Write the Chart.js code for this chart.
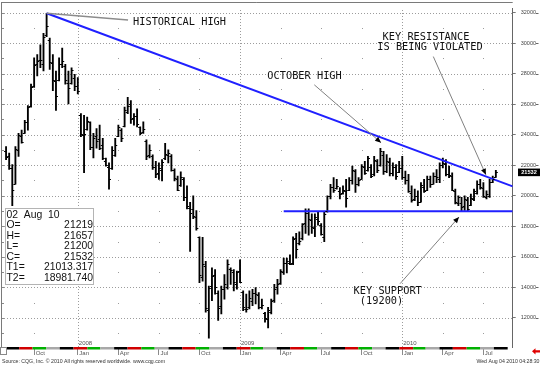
<!DOCTYPE html>
<html>
<head>
<meta charset="utf-8">
<script src="https://cdn.jsdelivr.net/npm/chart.js@4.4.1/dist/chart.umd.min.js"></script>
<style>
  html, body { margin: 0; padding: 0; background: #fff; }
  canvas { display: block; }
</style>
</head>
<body>
<canvas id="c" width="540" height="366"></canvas>
<script>
// weekly bars, index 0 = week of 30 Jul 2007, last = week of 02 Aug 2010
const opens = [
  22900, 22600, 21800, 20800, 23000, 23900, 24100, 24800, 25900, 27200,
  28600, 28900, 28600, 30500, 30200, 28700, 27500, 27600, 28600, 28500,
  27400, 27400, 27700, 27200, 25300, 24000, 24350, 24800, 23200, 23900,
  23700, 23300, 22300, 21900, 21800, 22700, 23900, 24300, 24600, 25500,
  26000, 25100, 25200, 24500, 24200, 23600, 22700, 22600, 21900, 21500,
  21700, 22500, 22700, 22600, 21700, 21100, 20700, 21100, 19900, 19200,
  19100, 18600, 17300, 14700, 15400, 12500, 14100, 14800, 13600, 12800,
  13900, 14000, 15200, 15000, 14200, 15100, 13700, 12600, 12700, 13100,
  13600, 13500, 12700, 12300, 11900, 12400, 13200, 14000, 14300, 15000,
  15600, 15600, 15600, 17200, 16900, 17200, 18200, 18900, 18400, 17900,
  18500, 18100, 17300, 19000, 20000, 20600, 20500, 20300, 20200, 20300,
  20400, 21000, 21600, 20800, 21100, 21900, 21700, 21900, 21400, 22300,
  22000, 22700, 21600, 22200, 21500, 21900, 21550, 21800, 21200, 21000,
  20200, 19800, 20000, 19600, 20600, 20400, 21100, 20800, 21300, 21100,
  22000, 22100, 21400, 21300, 20300, 19500, 19500, 19300, 19700, 19400,
  19800, 20200, 20800, 20500, 19900, 20000, 20900, 21219
];
const highs = [
  23226, 22796, 22044, 23226, 24086, 24301, 24946, 25913, 27311, 29031,
  29246, 29891, 30643, 31958, 30321, 29246, 28171, 29031, 29676, 28601,
  28171, 28386, 27956, 27741, 25376, 25268, 25161, 24838, 24086, 24408,
  24623, 23763, 22473, 22151, 23226, 23763, 24623, 24408, 25806, 26451,
  26236, 25376, 25698, 24516, 24838, 23656, 23333, 22688, 22258, 22151,
  22366, 23441, 23011, 22689, 21764, 21291, 21571, 21184, 20646, 19571,
  20001, 19034, 17314, 17271, 15701, 14089, 15271, 15164, 13766, 14089,
  14841, 15809, 15271, 15164, 15056, 15809, 13766, 13551, 13766, 13874,
  13981, 13659, 13229, 12369, 12691, 13229, 14196, 14519, 15164, 15916,
  15916, 16131, 17314, 17529, 17636, 18174, 19141, 19141, 18819, 18819,
  18926, 18174, 18926, 20001, 20754, 21184, 21076, 20539, 20646, 21076,
  21184, 21936, 21721, 21184, 22044, 22259, 22581, 22044, 22581, 22366,
  23099, 22904, 22689, 22474, 22151, 22044, 22259, 22581, 21614, 21399,
  20646, 20431, 20324, 20861, 21076, 21291, 21291, 21506, 21721, 22151,
  22474, 22366, 21936, 21506, 20431, 20001, 19894, 20001, 19894, 20109,
  20431, 20969, 21076, 20861, 20324, 21076, 21291, 21657
];
const lows = [
  22366, 21721, 19356, 20754, 22581, 23441, 24086, 24301, 25806, 27096,
  27848, 28386, 28171, 30428, 28278, 26881, 25591, 27526, 28386, 27311,
  26021, 27311, 26881, 26666, 23871, 21506, 24301, 23011, 22473, 23118,
  23011, 22366, 21936, 20431, 21721, 22581, 23871, 23548, 24516, 25376,
  24731, 24623, 24516, 23978, 24086, 22366, 22473, 21721, 21183, 21076,
  20968, 22366, 22151, 21613, 20969, 20324, 20603, 19678, 19141, 16346,
  18496, 17744, 14304, 14411, 12369, 10676, 13121, 13551, 11831, 12261,
  13229, 13874, 14196, 13766, 13874, 14304, 12476, 12369, 12584, 12799,
  12906, 12584, 12584, 11724, 11344, 12261, 13014, 13551, 14196, 14841,
  14949, 15486, 15486, 15916, 16776, 17099, 17529, 17421, 17529, 17314,
  18066, 17421, 16991, 18926, 19786, 20216, 20431, 19786, 20109, 19249,
  20324, 20754, 20216, 20646, 21076, 21399, 21614, 21184, 21291, 21506,
  21936, 21399, 21506, 21291, 21291, 21076, 21506, 21076, 20754, 20216,
  19571, 19679, 19356, 19571, 20216, 20324, 20539, 20754, 20861, 20861,
  21829, 21291, 21184, 20324, 19464, 19356, 18971, 19034, 18990, 19356,
  19679, 20109, 20431, 19894, 19786, 19894, 20861, 21200
];
const closes = [
  22540, 21790, 20390, 23040, 23980, 23550, 24860, 25840, 27140, 28570,
  28800, 28920, 30400, 31090, 28780, 27600, 26540, 28640, 28840, 27560,
  27040, 28230, 27180, 26870, 24070, 24050, 24890, 23200, 23800, 23600,
  23100, 22500, 22000, 21100, 23000, 23300, 24500, 23800, 25600, 25900,
  25000, 25200, 24700, 24100, 24400, 22600, 23000, 21900, 21400, 21800,
  22180, 22740, 22800, 21700, 21160, 20400, 21260, 19930, 19350, 18870,
  18680, 17880, 14800, 15500, 12620, 13970, 14740, 14000, 12660, 13890,
  14200, 15550, 15130, 14330, 14990, 14380, 12700, 12580, 13280, 13650,
  13550, 12700, 12810, 12000, 12520, 13120, 13910, 14200, 15040, 15600,
  15750, 15520, 17190, 16540, 17060, 18170, 18890, 18500, 17920, 18600,
  18340, 17500, 18800, 19980, 20570, 20380, 20620, 20100, 20400, 19870,
  21000, 21660, 20760, 21020, 21920, 21500, 22450, 21300, 22340, 21700,
  22900, 21600, 22300, 21500, 21900, 21300, 21800, 21250, 21000, 20300,
  19700, 20000, 19600, 20700, 20300, 21100, 20800, 21300, 21200, 22000,
  22150, 21400, 21350, 20400, 19600, 19900, 19240, 19800, 19100, 19850,
  20300, 20800, 20600, 20000, 20100, 20900, 21100, 21532
];

// first weekly bar of each quarter month
const quarterIdx = [9, 23, 36, 49, 62, 75, 88, 101, 114, 127, 140, 153];
const quarterLabels = ["Oct", "Jan", "Apr", "Jul", "Oct", "Jan", "Apr", "Jul", "Oct", "Jan", "Apr", "Jul"];
const yearLabels = ["2008", "2009", "2010"];
const yLabels = [12000, 14000, 16000, 18000, 20000, 22000, 24000, 26000, 28000, 30000, 32000];

// trend lines (T1 resistance from the historical high, T2 support)
const resistance = [{ x: 13, y: 31958 }, { x: 162.4, y: 20610 }];
const support = [{ x: 89, y: 18981.74 }, { x: 162.4, y: 18981.74 }];

const infoTitle = "02  Aug  10";
const infoRows = [["O=", "21219"], ["H=", "21657"], ["L=", "21200"], ["C=", "21532"], ["T1=", "21013.317"], ["T2=", "18981.740"]];

const $ = (id) => document.getElementById(id);
const DAY0 = Date.UTC(2007, 6, 30);
const MONO = '10.3px "DejaVu Sans Mono"';
const SANS = '"Liberation Sans", Arial, sans-serif';

function weekPos(y, m) { return (Date.UTC(y, m, 1) - DAY0) / 864e5 / 7 - 0.5; }

function arrow(ctx, x0, y0, x1, y1) {
  ctx.strokeStyle = "#808080";
  ctx.lineWidth = 1;
  ctx.beginPath(); ctx.moveTo(x0, y0); ctx.lineTo(x1, y1); ctx.stroke();
  const a = Math.atan2(y1 - y0, x1 - x0), len = 6, w = 2.6;
  ctx.fillStyle = "#000";
  ctx.beginPath();
  ctx.moveTo(x1, y1);
  ctx.lineTo(x1 - len * Math.cos(a) + w * Math.sin(a), y1 - len * Math.sin(a) - w * Math.cos(a));
  ctx.lineTo(x1 - len * Math.cos(a) - w * Math.sin(a), y1 - len * Math.sin(a) + w * Math.cos(a));
  ctx.closePath(); ctx.fill();
}

const overlay = {
  id: "overlay",
  beforeDatasetsDraw(chart) {
    const { ctx, chartArea: ca, scales: { x, y } } = chart;
    ctx.save();
    // frame
    ctx.strokeStyle = "#7a7a7a"; ctx.lineWidth = 1;
    ctx.beginPath();
    ctx.moveTo(1, 2.5); ctx.lineTo(ca.right, 2.5);
    ctx.moveTo(1.5, 2.5); ctx.lineTo(1.5, ca.bottom);
    ctx.stroke();
    // dotted grid: horizontal every 2000, vertical at January
    ctx.fillStyle = "#9c9c9c";
    yLabels.forEach(v => {
      const py = Math.round(y.getPixelForValue(v));
      for (let px = Math.ceil(ca.left) + 2; px < ca.right - 1; px += 3) ctx.fillRect(px, py, 1, 1);
    });
    quarterIdx.forEach((q, k) => {
      if (quarterLabels[k] !== "Jan") return;
      const px = Math.round(x.getPixelForValue(q));
      for (let py = Math.ceil(ca.top) + 1; py < ca.bottom; py += 3) ctx.fillRect(px, py, 1, 1);
    });
    // left minor ticks + grid dots at the other quarter lines
    for (let v = 11000; v <= 32000; v += 1000) {
      const py = Math.round(y.getPixelForValue(v));
      ctx.fillStyle = "#8a8a8a";
      ctx.fillRect(2, py, 2, 1);
      if (v % 2000 === 0) continue;
      ctx.fillStyle = "#9c9c9c";
      quarterIdx.forEach((q, k) => {
        if (quarterLabels[k] === "Jan") return;
        ctx.fillRect(Math.round(x.getPixelForValue(q)), py, 1, 1);
      });
    }
    ctx.restore();
  },
  afterDatasetsDraw(chart) {
    const { ctx, scales: { x, y } } = chart;
    const X = (i) => x.getPixelForValue(i), Y = (v) => y.getPixelForValue(v);
    ctx.save();
    // open / close ticks
    const meta = chart.getDatasetMeta(2);
    ctx.strokeStyle = "#000"; ctx.lineWidth = 1;
    ctx.beginPath();
    meta.data.forEach((el, i) => {
      const yo = Math.round(Y(opens[i])) + 0.5, yc = Math.round(Y(closes[i])) + 0.5;
      ctx.moveTo(el.x - 2, yo); ctx.lineTo(el.x, yo);
      ctx.moveTo(el.x, yc); ctx.lineTo(el.x + 2, yc);
    });
    ctx.stroke();

    // annotations
    ctx.strokeStyle = "#8c8c8c"; ctx.lineWidth = 1.5;
    ctx.beginPath(); ctx.moveTo(X(13), Y(31958)); ctx.lineTo(X(39.1), Y(31506)); ctx.stroke();
    arrow(ctx, X(98.8), Y(27268), X(120.2), Y(23475));
    arrow(ctx, X(136.95), Y(29119), X(153.8), Y(21379));
    arrow(ctx, X(126.3), Y(14238), X(145.2), Y(18605));

    ctx.fillStyle = "#111"; ctx.font = MONO; ctx.textBaseline = "middle"; ctx.textAlign = "left";
    [["HISTORICAL HIGH", 40.7, 31358], ["OCTOBER HIGH", 83.75, 27849],
     ["KEY RESISTANCE", 120.7, 30390], ["IS BEING VIOLATED", 119.0, 29719],
     ["KEY SUPPORT", 111.4, 13767], ["(19200)", 113.4, 13058]]
      .forEach(([t, i, v]) => ctx.fillText(t, X(i), Y(v)));
    ctx.restore();
  },
  afterDraw(chart) {
    const { ctx, chartArea: ca, scales: { x, y } } = chart;
    ctx.save();
    // monthly colour band
    const bandCols = ["#d00000", "#00b000", "#a8a8a8", "#000000"];
    for (let yr = 2007, m = 7; yr < 2011; m++) {
      if (m > 11) { m = 0; yr++; }
      if (yr === 2010 && m > 7) break;
      const a = Math.max(ca.left + 3, x.getPixelForValue(weekPos(yr, m)));
      const nm = m === 11 ? [yr + 1, 0] : [yr, m + 1];
      const b = Math.min(ca.right - 2, x.getPixelForValue(weekPos(nm[0], nm[1])));
      ctx.fillStyle = bandCols[m % 4];
      ctx.fillRect(a, ca.bottom, b - a, 2.5);
    }
    // year labels
    ctx.fillStyle = "#555"; ctx.font = "6px " + SANS; ctx.textBaseline = "middle";
    quarterIdx.filter((q, k) => quarterLabels[k] === "Jan")
      .forEach((q, k) => ctx.fillText(yearLabels[k], x.getPixelForValue(q) + 1, 343.3));
    // small box bottom-left, red arrow bottom-right
    ctx.strokeStyle = "#888"; ctx.lineWidth = 1;
    ctx.fillStyle = "#fff";
    ctx.fillRect(0.5, 347.5, 6, 7); ctx.strokeRect(0.5, 347.5, 6, 7);
    ctx.fillStyle = "#e00000";
    ctx.beginPath();
    ctx.moveTo(532, 351.3); ctx.lineTo(535.5, 348.3); ctx.lineTo(535.5, 350.2); ctx.lineTo(540, 350.2);
    ctx.lineTo(540, 352.6); ctx.lineTo(535.5, 352.6); ctx.lineTo(535.5, 354.4); ctx.closePath(); ctx.fill();
    // dashes after price labels
    ctx.fillStyle = "#666";
    yLabels.forEach(v => ctx.fillRect(536, Math.round(y.getPixelForValue(v)), 2.5, 1));
    // last price box
    const pc = y.getPixelForValue(closes[closes.length - 1]);
    ctx.fillStyle = "#000"; ctx.fillRect(518, pc - 3.8, 22, 7.6);
    ctx.fillStyle = "#fff"; ctx.font = "bold 5.6px " + SANS; ctx.textAlign = "center";
    ctx.fillText(String(closes[closes.length - 1]), 529, pc + 0.3);
    // info box
    ctx.fillStyle = "#fff"; ctx.strokeStyle = "#b4b4b4";
    ctx.fillRect(5.5, 208.5, 88, 76); ctx.strokeRect(5.5, 208.5, 88, 76);
    ctx.fillStyle = "#111"; ctx.font = "10.4px " + SANS; ctx.textAlign = "left";
    ctx.fillText(infoTitle, 6.5, 215);
    infoRows.forEach(([k, v], r) => {
      const ry = 225.5 + r * 10.5;
      ctx.textAlign = "left"; ctx.fillText(k, 6.5, ry);
      ctx.textAlign = "right"; ctx.fillText(v, 93, ry);
    });
    // footer
    ctx.fillStyle = "#333"; ctx.font = "5.2px " + SANS;
    ctx.textAlign = "left"; ctx.fillText("Source: CQG, Inc. \u00a9 2010 All rights reserved worldwide. www.cqg.com", 2, 362);
    ctx.textAlign = "right"; ctx.fillText("Wed Aug 04 2010 04:28:30", 539.5, 362);
    ctx.restore();
  }
};

new Chart($("c"), {
  type: "bar",
  data: {
    datasets: [
      { type: "line", data: resistance, borderColor: "#2020ff", borderWidth: 2, pointRadius: 0, fill: false },
      { type: "line", data: support, borderColor: "#2020ff", borderWidth: 2, pointRadius: 0, fill: false },
      {
        data: highs.map((h, i) => ({ x: i, y: [lows[i], h] })),
        backgroundColor: "#000", borderWidth: 0, barThickness: 1.2, grouped: false
      }
    ]
  },
  options: {
    responsive: false,
    animation: false,
    devicePixelRatio: 1,
    events: [],
    layout: { padding: { left: 2, top: 3, right: 0, bottom: 0 } },
    plugins: { legend: { display: false }, tooltip: { enabled: false } },
    scales: {
      x: {
        type: "linear", min: -1.3, max: 162.4, offset: false,
        afterBuildTicks: (s) => { s.ticks = quarterIdx.map(v => ({ value: v })); },
        afterFit: (s) => { s.height = 19; },
        ticks: {
          callback: (v, i) => quarterLabels[i], autoSkip: false, maxRotation: 0,
          align: "start", labelOffset: 1.5, padding: -5,
          font: { size: 6, family: SANS }, color: "#555"
        },
        grid: { offset: false, drawOnChartArea: false, lineWidth: 1, tickLength: 8, tickColor: "#8a8a8a" },
        border: { display: false }
      },
      y: {
        position: "right", min: 10090, max: 32280,
        afterBuildTicks: (s) => {
          const t = [];
          for (let v = 11000; v <= 32000; v += 1000) t.push({ value: v });
          s.ticks = t;
        },
        afterFit: (s) => { s.width = 27.3; },
        ticks: {
          callback: (v) => yLabels.includes(v) ? String(v) : "", autoSkip: false,
          padding: 5, font: { size: 5.5, family: SANS }, color: "#444"
        },
        grid: {
          drawOnChartArea: false, lineWidth: 1, tickLength: 3,
          tickColor: (c) => c.tick && yLabels.includes(c.tick.value) ? "#777" : "rgba(0,0,0,0)"
        },
        border: { display: true, color: "#666", width: 1 }
      }
    }
  },
  plugins: [overlay]
});
</script>
</body>
</html>
